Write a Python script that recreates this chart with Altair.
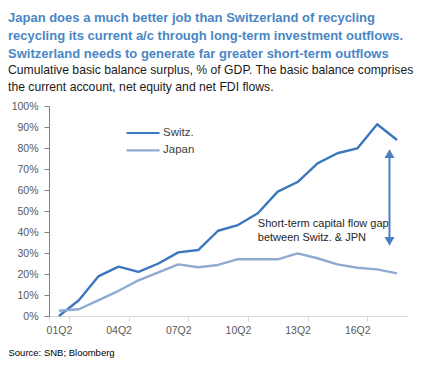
import altair as alt
import pandas as pd

# ---- data ----
periods = ["01Q2", "02Q2", "03Q2", "04Q2", "05Q2", "06Q2", "07Q2", "08Q2", "09Q2",
           "10Q2", "11Q2", "12Q2", "13Q2", "14Q2", "15Q2", "16Q2", "17Q2", "18Q2"]
switz = [0.0, 7.5, 19.0, 23.5, 21.0, 25.0, 30.3, 31.4, 40.6, 43.3, 48.9, 59.2,
         63.8, 72.7, 77.5, 79.8, 91.3, 83.8]
japan = [2.5, 3.2, 7.6, 12.0, 17.0, 20.8, 24.6, 23.2, 24.3, 27.1, 27.0, 27.0,
         29.8, 27.5, 24.6, 23.0, 22.2, 20.3]
series_names = ["Switz.", "Japan"]
series_colors = ["#3c77bd", "#8eaad2"]
x_tick_labels = ["01Q2", "04Q2", "07Q2", "10Q2", "13Q2", "16Q2"]
y_ticks = [0, 10, 20, 30, 40, 50, 60, 70, 80, 90, 100]

title_lines = [
    "Japan does a much better job than Switzerland of recycling",
    "recycling its current a/c through long-term investment outflows.",
    "Switzerland needs to generate far greater short-term outflows",
]
subtitle_lines = [
    "Cumulative basic balance surplus, % of GDP. The basic balance comprises",
    "the current account, net equity and net FDI flows.",
]
source_text = "Source: SNB; Bloomberg"

annot_period = "11Q2"
annot_value = 42.2
annot_lines = ["Short-term capital flow gap", "between Switz. & JPN"]

arrow_period = "18Q2"
arrow_top = 77.3
arrow_bottom = 35.5

FONT = "Liberation Sans"

# ---- tables ----
df = pd.DataFrame({
    "period": periods * 2,
    "series": [series_names[0]] * len(periods) + [series_names[1]] * len(periods),
    "value": switz + japan,
})
annot_df = pd.DataFrame({"period": [annot_period], "value": [annot_value]})
arrow_df = pd.DataFrame({"period": [arrow_period], "top": [arrow_top], "bottom": [arrow_bottom]})
heads_df = pd.DataFrame({"period": [arrow_period] * 2, "value": [arrow_top, arrow_bottom],
                         "shape": ["triangle-up", "triangle-down"]})

x_scale = alt.Scale(type="band", domain=periods, paddingInner=0, paddingOuter=0)
x_axis = alt.Axis(values=x_tick_labels, tickBand="extent", labelAngle=0, tickSize=5,
                  tickColor="#d9d9d9", domainColor="#d9d9d9", labelColor="#595959",
                  labelFontSize=10.5, labelPadding=4, grid=False,
                  title=source_text, titleX=-41, titleY=39, titleAlign="left",
                  titleAnchor="start", titleBaseline="alphabetic",
                  titleFontWeight="normal", titleFontSize=9.5, titleColor="#000000")
y_scale = alt.Scale(domain=[0, 100], nice=False)
y_axis = alt.Axis(values=y_ticks, labelExpr="datum.value + '%'", grid=False, tickSize=5,
                  tickColor="#808080", domainColor="#808080", labelColor="#595959",
                  labelFontSize=10.5, labelPadding=6, title=None)


def xenc(band_pos):
    return alt.X("period:O", sort=periods, bandPosition=band_pos, scale=x_scale, axis=x_axis)


lines = alt.Chart(df).mark_line(strokeWidth=2.4, strokeJoin="round").encode(
    x=xenc(0.5),
    y=alt.Y("value:Q", scale=y_scale, axis=y_axis),
    color=alt.Color("series:N", sort=series_names,
                    scale=alt.Scale(domain=series_names, range=series_colors),
                    legend=alt.Legend(title=None, orient="none", legendX=87, legendY=20,
                                      symbolType="M-3,0H3", symbolSize=121,
                                      symbolStrokeWidth=2.2, labelOffset=13,
                                      rowPadding=4.4, padding=0,
                                      labelFontSize=11.5, labelColor="#404040",
                                      labelFont=FONT)),
)

arrow = alt.Chart(arrow_df).mark_rule(color="#4a7ebf", strokeWidth=2).encode(
    x=xenc(0.12),
    y=alt.Y("top:Q", scale=y_scale, axis=y_axis),
    y2="bottom:Q",
)

heads = alt.Chart(heads_df).mark_point(filled=True, color="#4a7ebf", size=100, opacity=1).encode(
    x=xenc(0.12),
    y=alt.Y("value:Q", scale=y_scale, axis=y_axis),
    shape=alt.Shape("shape:N", scale=None),
)

annot = alt.Chart(annot_df).mark_text(align="left", baseline="alphabetic", fontSize=11,
                                      lineHeight=13.4, color="#262626", font=FONT).encode(
    x=xenc(0.5),
    y=alt.Y("value:Q", scale=y_scale, axis=y_axis),
    text=alt.value(annot_lines),
)

chart = alt.layer(lines, arrow, heads, annot).properties(
    width=358,
    height=210,
    autosize=alt.AutoSizeParams(type="none"),
    padding={"left": 41, "top": 98, "right": 13, "bottom": 42},
    title=alt.TitleParams(
        text=title_lines, subtitle=subtitle_lines, anchor="start", frame="group", dx=-41,
        color="#4a86c5", fontSize=13, fontWeight="bold", lineHeight=18.3, font=FONT,
        subtitleColor="#1a1a1a", subtitleFontSize=12.2, subtitleLineHeight=17.3,
        subtitleFont=FONT, subtitlePadding=2, offset=8,
    ),
).configure(font=FONT).configure_view(stroke=None)

chart.save("out.html", embed_options={"renderer": "svg", "actions": False})
